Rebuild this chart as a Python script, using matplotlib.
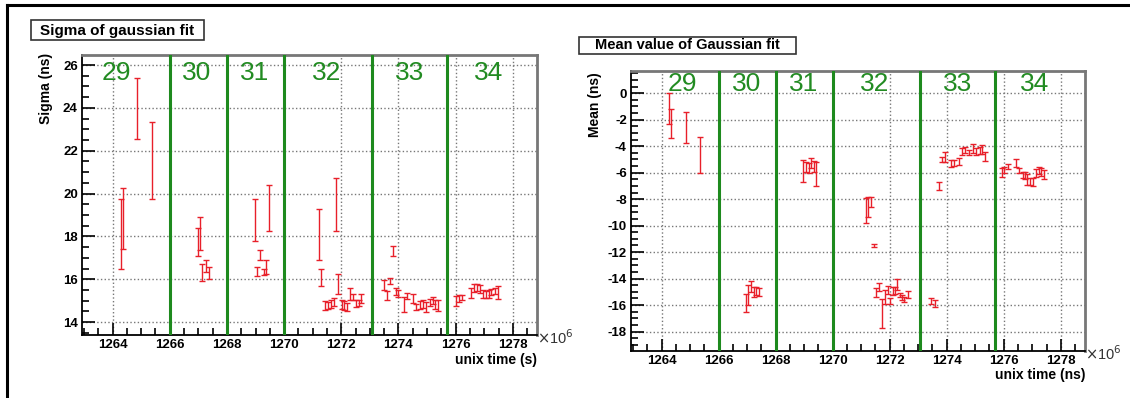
import numpy as np
import matplotlib.pyplot as plt
from matplotlib.ticker import MultipleLocator
from matplotlib.patches import Rectangle
from matplotlib.lines import Line2D

plt.rcParams['font.family'] = ['Liberation Sans', 'DejaVu Sans']
plt.rcParams['axes.unicode_minus'] = False

# run boundaries (unix time, x10^6 s) and run labels
run_edges = [1266.0, 1268.0, 1270.0, 1273.07, 1275.7]
run_names = ['29', '30', '31', '32', '33', '34']
sigma_label_x = [1264.13, 1266.95, 1268.98, 1271.5, 1274.4, 1277.15]
mean_label_x = [1264.72, 1266.98, 1269.0, 1271.48, 1274.38, 1277.07]

# Sigma of gaussian fit: time, lower and upper end of error bar
sigma_t = [1264.30, 1264.36, 1264.85, 1265.38,
           1266.99, 1267.06, 1267.14, 1267.26, 1267.37,
           1268.98, 1269.06, 1269.16, 1269.28, 1269.37, 1269.48,
           1271.23, 1271.30, 1271.42, 1271.52, 1271.63, 1271.73, 1271.81, 1271.90,
           1272.02, 1272.10, 1272.20, 1272.31, 1272.40, 1272.53, 1272.62, 1272.70,
           1273.50, 1273.60, 1273.70, 1273.81, 1273.90, 1273.99, 1274.20, 1274.30,
           1274.50, 1274.63, 1274.75, 1274.87, 1274.97, 1275.09, 1275.20, 1275.27, 1275.39,
           1276.02, 1276.13, 1276.21, 1276.53, 1276.64, 1276.74, 1276.85, 1276.96,
           1277.05, 1277.16, 1277.25, 1277.37, 1277.48]
sigma_lo = [16.50, 17.43, 22.53, 19.74,
            17.08, 17.36, 15.92, 16.34, 16.03,
            17.79, 16.14, 16.92, 16.19, 16.27, 18.26,
            16.92, 15.67, 14.58, 14.63, 14.68, 14.74, 18.26, 15.33,
            14.63, 14.58, 14.50, 15.02, 15.02, 14.71, 14.74, 14.89,
            15.49, 15.05, 15.77, 17.08, 15.25, 15.18, 14.47, 15.10,
            14.89, 14.55, 14.63, 14.68, 14.47, 14.74, 14.86, 14.63, 14.50,
            14.74, 14.94, 15.02, 15.14, 15.41, 15.46, 15.36, 15.14,
            15.14, 15.14, 15.25, 15.30, 15.10]
sigma_hi = [19.77, 20.24, 25.41, 23.34,
            18.40, 18.91, 16.73, 16.89, 16.58,
            19.74, 16.58, 17.39, 16.50, 16.89, 20.39,
            19.27, 16.50, 14.97, 14.94, 15.05, 15.14, 20.73, 16.23,
            15.05, 14.99, 14.89, 15.61, 15.33, 15.05, 15.02, 15.30,
            15.95, 15.46, 16.08, 17.54, 15.61, 15.52, 15.18, 15.36,
            15.33, 14.86, 14.99, 15.02, 14.94, 15.10, 15.18, 15.02, 15.02,
            15.21, 15.25, 15.25, 15.61, 15.77, 15.77, 15.72, 15.49,
            15.46, 15.52, 15.56, 15.61, 15.67]

# Mean value of Gaussian fit
mean_t = [1264.28, 1264.35, 1264.86, 1265.36,
          1266.96, 1267.04, 1267.15, 1267.25, 1267.33, 1267.41,
          1268.95, 1269.07, 1269.16, 1269.24, 1269.33, 1269.43,
          1271.18, 1271.25, 1271.35, 1271.44, 1271.53, 1271.64, 1271.73, 1271.83,
          1271.93, 1272.02, 1272.12, 1272.17, 1272.25, 1272.35, 1272.43, 1272.51, 1272.64,
          1273.45, 1273.60, 1273.74, 1273.84, 1273.93, 1274.14, 1274.25, 1274.42,
          1274.55, 1274.65, 1274.78, 1274.92, 1275.04, 1275.15, 1275.23, 1275.34,
          1275.93, 1276.00, 1276.14, 1276.43, 1276.55, 1276.66, 1276.75, 1276.83,
          1276.92, 1277.04, 1277.12, 1277.24, 1277.32, 1277.42]
mean_lo = [-2.34, -3.40, -3.78, -6.02,
           -16.49, -15.99, -14.98, -15.36, -15.24, -15.31,
           -6.67, -5.92, -6.04, -5.67, -5.92, -6.97,
           -9.77, -9.32, -8.60, -11.63, -15.36, -14.91, -17.75, -15.91,
           -15.18, -15.91, -15.24, -15.18, -14.86, -15.41, -15.61, -15.74, -15.49,
           -15.91, -16.17, -7.30, -5.21, -5.16, -5.54, -5.49, -5.41,
           -4.66, -4.54, -4.66, -4.53, -4.66, -4.58, -4.62, -5.11,
           -6.30, -6.04, -5.72, -5.54, -6.04, -6.42, -6.47, -6.92,
           -6.92, -6.97, -6.30, -6.12, -6.24, -6.47]
mean_hi = [0.00, -1.21, -1.44, -3.32,
           -15.16, -14.48, -14.15, -14.61, -14.66, -14.73,
           -5.04, -5.16, -5.29, -4.91, -5.11, -5.16,
           -7.88, -7.81, -7.81, -11.38, -14.73, -14.35, -15.56, -14.86,
           -14.55, -15.49, -14.66, -14.63, -14.05, -15.06, -15.24, -15.36, -14.91,
           -15.49, -15.61, -6.67, -4.78, -4.41, -5.04, -5.06, -4.86,
           -4.16, -4.03, -4.28, -3.85, -4.11, -4.05, -3.88, -4.41,
           -5.67, -5.54, -5.36, -4.96, -5.67, -5.92, -5.97, -6.12,
           -6.42, -6.42, -5.72, -5.54, -5.67, -5.79]

fig = plt.figure(figsize=(11.3, 3.98), dpi=100)

# outer frame (top and left edge only visible)
fig.add_artist(Line2D([0.0062, 1.0], [0.987, 0.987], color='black', lw=2.2, transform=fig.transFigure))
fig.add_artist(Line2D([0.0062, 0.0062], [0.0, 0.987], color='black', lw=2.2, transform=fig.transFigure))


def draw_panel(ax, t, lo, hi, ylim, ylabel, xlabel, label_x, label_y):
    t = np.array(t)
    lo = np.array(lo)
    hi = np.array(hi)
    c = (lo + hi) / 2
    e = (hi - lo) / 2
    ax.set_xlim(1262.93, 1278.85)
    ax.set_ylim(*ylim)
    ax.xaxis.set_major_locator(MultipleLocator(2))
    ax.xaxis.set_minor_locator(MultipleLocator(0.5))
    ax.yaxis.set_major_locator(MultipleLocator(2))
    ax.yaxis.set_minor_locator(MultipleLocator(0.5))
    ax.grid(True, which='major', color='#777777', linestyle=':', linewidth=1.0)
    ax.tick_params(which='both', direction='in', top=False, right=False, width=1.2)
    ax.tick_params(which='major', length=9, labelsize=9.5, pad=3)
    ax.tick_params(which='minor', length=5)
    for lab in ax.get_xticklabels() + ax.get_yticklabels():
        lab.set_fontweight('bold')
    for s in ['left', 'bottom']:
        ax.spines[s].set_color('black')
        ax.spines[s].set_linewidth(1.3)
    for s in ['top', 'right']:
        ax.spines[s].set_color('#777777')
        ax.spines[s].set_linewidth(2)
    for xe in run_edges:
        ax.axvline(xe, color='#1e8a1e', lw=2.2, zorder=3)
    for name, lx in zip(run_names, label_x):
        ax.text(lx, label_y, name, color='#228b22', fontsize=19, ha='center', va='center', zorder=4)
    ax.errorbar(t, c, yerr=e, fmt='none', ecolor='#e8202a', elinewidth=1.0,
                capsize=2.2, capthick=1.0, zorder=5)
    ax.set_ylabel(ylabel, fontsize=10, fontweight='bold')
    ax.yaxis.set_label_coords(-0.064, 0.88)
    ax.text(1.0, -0.088, xlabel, transform=ax.transAxes, ha='right', va='center',
            fontsize=10, fontweight='bold')
    ax.text(1.0, -0.01, r'$\times$10$^6$', transform=ax.transAxes, ha='left', va='center',
            fontsize=10.5, color='#333333')


ax1 = fig.add_axes([0.0726, 0.1583, 0.4027, 0.7035])
draw_panel(ax1, sigma_t, sigma_lo, sigma_hi, (13.4, 26.47), 'Sigma (ns)', 'unix time (s)',
           sigma_label_x, 25.65)

ax2 = fig.add_axes([0.5584, 0.1188, 0.4018, 0.7035])
draw_panel(ax2, mean_t, mean_lo, mean_hi, (-19.45, 1.7), 'Mean (ns)', 'unix time (ns)',
           mean_label_x, 0.7)

# title boxes
fig.add_artist(Rectangle((31 / 1130, 1 - 40 / 398), 173 / 1130, 20 / 398, transform=fig.transFigure,
                         facecolor='white', edgecolor='#333333', lw=1.2))
fig.text(117.5 / 1130, 1 - 30.5 / 398, 'Sigma of gaussian fit', ha='center', va='center',
         fontsize=11, fontweight='bold')
fig.add_artist(Rectangle((579 / 1130, 1 - 54 / 398), 217 / 1130, 17.5 / 398, transform=fig.transFigure,
                         facecolor='white', edgecolor='#333333', lw=1.2))
fig.text(687.5 / 1130, 1 - 45.3 / 398, 'Mean value of Gaussian fit', ha='center', va='center',
         fontsize=10.5, fontweight='bold')

fig.savefig('out.png', dpi=100)
